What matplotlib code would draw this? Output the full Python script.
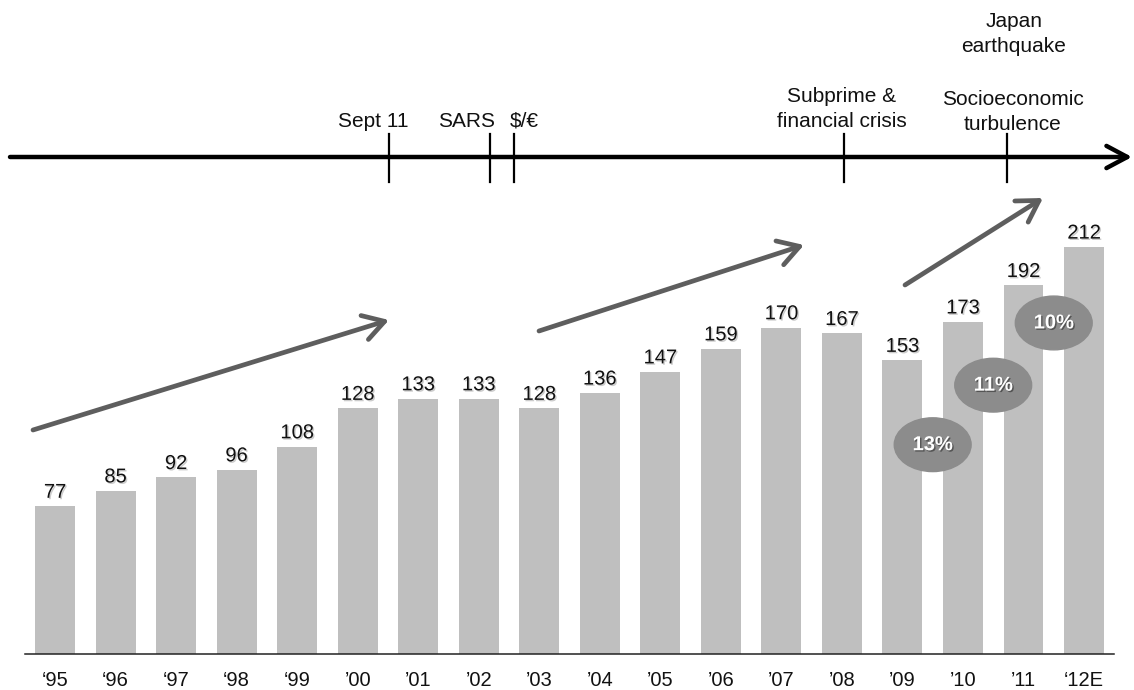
import matplotlib.pyplot as plt
import matplotlib.patheffects as pe
from matplotlib.patches import Ellipse

plt.rcParams['font.family'] = ['Liberation Sans', 'DejaVu Sans']

# data
years = ['‘95', '‘96', '‘97', '‘98', '‘99', '’00', '’01', '’02', '’03',
         '’04', '’05', '’06', '’07', '’08', '’09', '’10', '’11', '‘12E']
values = [77, 85, 92, 96, 108, 128, 133, 133, 128,
          136, 147, 159, 170, 167, 153, 173, 192, 212]
growth = ['13%', '11%', '10%']
growth_after = [14, 15, 16]          # bubble sits right of this bar

events = ['Sept 11', 'SARS', '$/€', 'Subprime &\nfinancial crisis',
          'Socioeconomic\nturbulence']
event_x = [5.52, 7.19, 7.58, 13.03, 15.73]

fig = plt.figure(figsize=(11.34, 6.9), dpi=100)
ax = fig.add_axes([0, 0, 1, 1])
ax.set_xlim(-0.909, 17.826)
ax.set_ylim(-18.75, 340.6)
ax.axis('off')

bar_col = '#bfbfbf'
shadow = [pe.withSimplePatchShadow(offset=(1, -1), shadow_rgbFace='k', alpha=0.2)]

x = list(range(len(values)))
ax.bar(x, values, width=0.66, color=bar_col, zorder=2)
ax.plot([-0.5, 17.5], [0, 0], color='#222222', lw=1.1, zorder=3)

for i, v in enumerate(values):
    ax.annotate(str(v), (i, v), xytext=(0, 6), textcoords='offset points',
                ha='center', va='baseline', fontsize=14.5, color='#111111',
                path_effects=shadow, zorder=4)
    ax.text(i, -16.7, years[i], ha='center', va='baseline', fontsize=14.5,
            color='#111111')

# growth bubbles
bub_y = [109, 140, 172.4]
for g, i, by in zip(growth, growth_after, bub_y):
    ax.add_patch(Ellipse((i + 0.5, by), 1.27, 28, color='#8c8c8c', zorder=5))
    ax.text(i + 0.5, by, g, ha='center', va='center', fontsize=14.5,
            fontweight='bold', color='white', zorder=6,
            path_effects=[pe.withSimplePatchShadow(offset=(1, -1),
                                                    shadow_rgbFace='k', alpha=0.4)])

# overlay in pixel space for the timeline and trend arrows
ov = fig.add_axes([0, 0, 1, 1])
ov.set_xlim(0, 1134)
ov.set_ylim(690, 0)
ov.axis('off')
ov.patch.set_alpha(0)

line_y = 157
ov.annotate('', xy=(1132, line_y), xytext=(10, line_y),
            arrowprops=dict(arrowstyle='->,head_length=0.75,head_width=0.4',
                            lw=3.2, color='black', mutation_scale=20,
                            shrinkA=0, shrinkB=0))


def px(i):
    return 55 + 60.53 * i


for ex in event_x:
    xp = px(ex)
    ov.plot([xp, xp], [134, 182], color='black', lw=1.6)

# event labels: (text, centre x, baseline of last line)
labels = [(events[0], 373, 127), (events[1], 467, 127), (events[2], 524, 127),
          (events[3], 842, 127), (events[4], 1013, 130),
          ('Japan\nearthquake', 1014, 52)]
for txt, cx, base in labels:
    lines = txt.split('\n')
    for k, ln in enumerate(lines):
        yb = base - 25 * (len(lines) - 1 - k)
        ov.text(cx, yb, ln, ha='center', va='baseline', fontsize=15,
                color='#111111')

# trend arrows
arrow_col = '#5e5e5e'
for (x0, y0), (x1, y1) in [((33, 430), (389, 320)),
                           ((539, 331), (804, 245)),
                           ((905, 285), (1043, 198))]:
    ov.annotate('', xy=(x1, y1), xytext=(x0, y0),
                arrowprops=dict(arrowstyle='->,head_length=0.75,head_width=0.45',
                                lw=3.4, color=arrow_col, mutation_scale=20,
                                shrinkA=0, shrinkB=0))

fig.savefig('out.png', dpi=100, facecolor='white')
